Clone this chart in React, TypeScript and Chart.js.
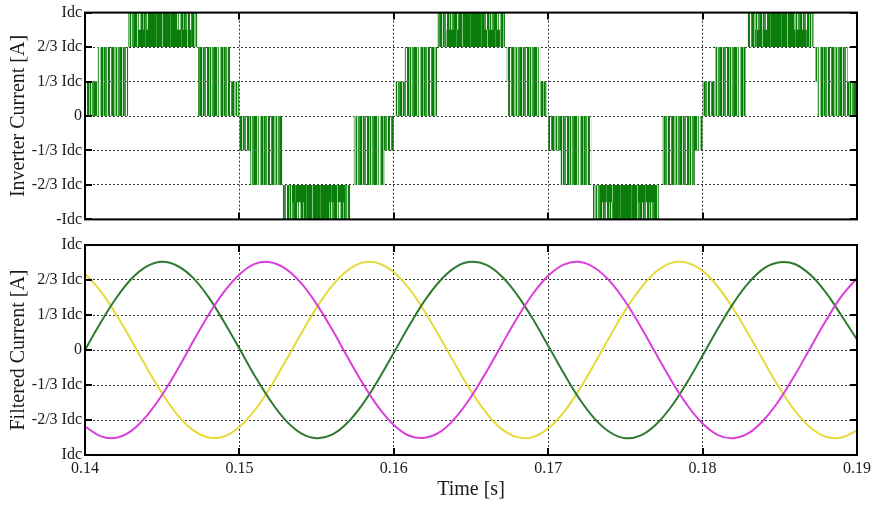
import React, { useEffect, useRef } from "react";
import { Chart, registerables } from "chart.js";

Chart.register(...registerables);

const FONT = "'Liberation Serif', 'Times New Roman', serif";

// ---- axes ----
const X_MIN = 0.14;
const X_MAX = 0.19;
const X_STEP = 0.01;
// y values are in units of Idc/3 (-3 .. 3)
const topYLabels = ["-Idc", "-2/3 Idc", "-1/3 Idc", "0", "1/3 Idc", "2/3 Idc", "Idc"];
const bottomYLabels = ["Idc", "-2/3 Idc", "-1/3 Idc", "0", "1/3 Idc", "2/3 Idc", "Idc"];

// ---- inverter current: PWM bands (start time, end time, low level, high level) ----
const segStart = [
  0.1400, 0.1408, 0.1428, 0.1473, 0.1473,
  0.1500, 0.1507, 0.1528, 0.1574, 0.1574,
  0.1601, 0.1607, 0.1628, 0.1673, 0.1674,
  0.1700, 0.1708, 0.1729, 0.1774, 0.1774,
  0.1800, 0.1808, 0.1829, 0.1873, 0.1874,
];
const segEnd = [
  0.1428, 0.1428, 0.1473, 0.1494, 0.1500,
  0.1528, 0.1528, 0.1572, 0.1594, 0.1600,
  0.1628, 0.1628, 0.1672, 0.1695, 0.1699,
  0.1728, 0.1728, 0.1772, 0.1795, 0.1800,
  0.1828, 0.1828, 0.1872, 0.1894, 0.1900,
];
const segLow = [
  0, 1, 2, 1, 0,
  -1, -2, -3, -2, -1,
  0, 1, 2, 1, 0,
  -1, -2, -3, -2, -1,
  0, 1, 2, 1, 0,
];
const segHigh = [
  1, 2, 3, 2, 1,
  0, -1, -2, -1, 0,
  1, 2, 3, 2, 1,
  0, -1, -2, -1, 0,
  1, 2, 3, 2, 1,
];
// densely switched parts of the peak bands
const denseStart = [0.1434, 0.1442, 0.1534, 0.1542, 0.1634, 0.1642, 0.1734, 0.1742, 0.1834, 0.1842];
const denseEnd = [0.1469, 0.1458, 0.1569, 0.1558, 0.1669, 0.1658, 0.1769, 0.1758, 0.1869, 0.1858];
const denseLow = [2, 2, -2.5, -3, 2, 2, -2.5, -3, 2, 2];
const denseHigh = [2.5, 3, -2, -2, 2.5, 3, -2, -2, 2.5, 3];

// ---- filtered currents ----
const times = [
  0.140, 0.141, 0.142, 0.143, 0.144, 0.145, 0.146, 0.147, 0.148, 0.149,
  0.150, 0.151, 0.152, 0.153, 0.154, 0.155, 0.156, 0.157, 0.158, 0.159,
  0.160, 0.161, 0.162, 0.163, 0.164, 0.165, 0.166, 0.167, 0.168, 0.169,
  0.170, 0.171, 0.172, 0.173, 0.174, 0.175, 0.176, 0.177, 0.178, 0.179,
  0.180, 0.181, 0.182, 0.183, 0.184, 0.185, 0.186, 0.187, 0.188, 0.189,
  0.190,
];
const phaseGreen = [
  0, 0.77, 1.47, 2.03, 2.39, 2.52, 2.40, 2.06, 1.51, 0.81,
  0.04, -0.74, -1.44, -2.01, -2.38, -2.52, -2.42, -2.08, -1.54, -0.85,
  -0.08, 0.70, 1.41, 1.98, 2.37, 2.52, 2.43, 2.10, 1.57, 0.89,
  0.12, -0.66, -1.38, -1.96, -2.35, -2.52, -2.44, -2.12, -1.60, -0.92,
  -0.16, 0.62, 1.34, 1.93, 2.34, 2.51, 2.45, 2.14, 1.63, 0.98,
  0.30,
];
const phaseMagenta = [
  -2.18, -2.46, -2.51, -2.31, -1.88, -1.28, -0.55, 0.24, 1.00, 1.66,
  2.16, 2.46, 2.51, 2.32, 1.91, 1.31, 0.59, -0.20, -0.96, -1.63,
  -2.14, -2.45, -2.51, -2.34, -1.93, -1.34, -0.62, 0.16, 0.92, 1.60,
  2.12, 2.44, 2.52, 2.35, 1.96, 1.38, 0.66, -0.12, -0.89, -1.57,
  -2.10, -2.43, -2.52, -2.37, -1.98, -1.41, -0.70, 0.08, 0.85, 1.54,
  2.05,
];
const phaseYellow = [
  2.18, 1.69, 1.03, 0.28, -0.51, -1.24, -1.86, -2.29, -2.50, -2.47,
  -2.20, -1.72, -1.07, -0.31, 0.47, 1.21, 1.83, 2.27, 2.50, 2.48,
  2.22, 1.75, 1.10, 0.35, -0.43, -1.17, -1.80, -2.26, -2.49, -2.49,
  -2.24, -1.78, -1.14, -0.39, 0.39, 1.14, 1.77, 2.24, 2.49, 2.49,
  2.26, 1.80, 1.17, 0.43, -0.35, -1.10, -1.75, -2.22, -2.48, -2.50,
  -2.30,
];

// ---- styles ----
const D = "#0b7d0b";
const M = "#3f9a3f";
const L = "#8cc58c";
const P = "#c4e2c4";
const W = "rgba(255,255,255,0)";
const regularStripes: [number, string][] = [
  [2, D], [1, P], [1, D], [2, M], [1, W], [2, D], [1, L], [1, D], [1, P], [2, M],
  [3, D], [1, P], [1, M], [1, W], [1, L], [2, D], [1, L], [1, D], [2, M], [1, P], [2, D],
  [1, W], [1, M], [2, D], [2, L], [1, D], [1, P], [2, M],
];
const denseStripes: [number, string][] = [
  [6, D], [1, M], [5, D], [1, L], [7, D], [1, M], [4, D],
];

function makePattern(stripes: [number, string][]): CanvasPattern | string {
  const total = stripes.reduce((s, [w]) => s + w, 0);
  const c = document.createElement("canvas");
  c.width = total;
  c.height = 8;
  const g = c.getContext("2d");
  if (!g) return D;
  let x = 0;
  for (const [w, col] of stripes) {
    g.fillStyle = col;
    g.fillRect(x, 0, w, 8);
    x += w;
  }
  return g.createPattern(c, "repeat") || D;
}

const framePlugin = {
  id: "frame",
  afterDraw(chart: any) {
    const { ctx, chartArea } = chart;
    const { left, right, top, bottom } = chartArea;
    const xs = chart.scales.x;
    const ys = chart.scales.y;
    ctx.save();
    ctx.strokeStyle = "#000";
    ctx.lineWidth = 2;
    ctx.strokeRect(left, top, right - left, bottom - top);
    const T = 7;
    ctx.beginPath();
    xs.ticks.forEach((t: any) => {
      const px = Math.round(xs.getPixelForValue(t.value));
      ctx.moveTo(px, top);
      ctx.lineTo(px, top + T);
      ctx.moveTo(px, bottom);
      ctx.lineTo(px, bottom - T);
    });
    ys.ticks.forEach((t: any) => {
      const py = Math.round(ys.getPixelForValue(t.value));
      ctx.moveTo(left, py);
      ctx.lineTo(left + T, py);
      ctx.moveTo(right, py);
      ctx.lineTo(right - T, py);
    });
    ctx.stroke();
    ctx.restore();
  },
};

function gridOpts() {
  return { color: "#333", lineWidth: 1, drawTicks: false };
}

export default function App() {
  const topRef = useRef<HTMLCanvasElement>(null);
  const botRef = useRef<HTMLCanvasElement>(null);

  useEffect(() => {
    document.body.style.margin = "0";
    Chart.defaults.font.family = FONT;
    Chart.defaults.color = "#1a1a1a";
    const regular = makePattern(regularStripes);
    const dense = makePattern(denseStripes);

    const bandDataset = (t0: number, t1: number, lo: number, hi: number, bg: any) => ({
      data: [
        { x: t0, y: hi },
        { x: t1, y: hi },
      ],
      fill: { value: lo },
      backgroundColor: bg,
      borderColor: "rgba(0,0,0,0)",
      borderWidth: 1,
      pointRadius: 0,
      tension: 0,
    });

    // earlier datasets are painted last (on top): dense parts first
    const topDatasets: any[] = [];
    for (let i = 0; i < denseStart.length; i++) {
      topDatasets.push(bandDataset(denseStart[i], denseEnd[i], denseLow[i], denseHigh[i], dense));
    }
    for (let i = 0; i < segStart.length; i++) {
      topDatasets.push(bandDataset(segStart[i], segEnd[i], segLow[i], segHigh[i], regular));
    }

    const xBase = {
      type: "linear" as const,
      min: X_MIN,
      max: X_MAX,
      grid: gridOpts(),
      border: { display: false, dash: [2, 2] },
    };

    const c1 = new Chart(topRef.current as HTMLCanvasElement, {
      type: "line",
      data: { datasets: topDatasets },
      plugins: [framePlugin],
      options: {
        animation: false,
        responsive: true,
        maintainAspectRatio: false,
        events: [],
        layout: { padding: { top: 12, right: 15, bottom: 12, left: 0 } },
        plugins: { legend: { display: false }, tooltip: { enabled: false } },
        scales: {
          x: {
            ...xBase,
            ticks: { display: false, stepSize: X_STEP },
            afterFit: (s: any) => {
              s.height = 0;
              s.paddingLeft = 0;
              s.paddingRight = 0;
            },
          },
          y: {
            min: -3,
            max: 3,
            grid: gridOpts(),
            border: { display: false, dash: [2, 2] },
            ticks: {
              stepSize: 1,
              padding: 3,
              font: { size: 16 },
              callback: (v: any) => topYLabels[Math.round(Number(v)) + 3],
            },
            title: {
              display: true,
              text: "Inverter Current [A]",
              font: { size: 20 },
              padding: { top: 7, bottom: 0 },
            },
            afterFit: (s: any) => {
              s.width = 85;
            },
          },
        },
      } as any,
    });

    const lineDs = (vals: number[], color: string) => ({
      data: times.map((t, i) => ({ x: t, y: vals[i] })),
      borderColor: color,
      borderWidth: 2,
      pointRadius: 0,
      tension: 0.4,
      fill: false,
    });

    const c2 = new Chart(botRef.current as HTMLCanvasElement, {
      type: "line",
      data: {
        datasets: [
          lineDs(phaseMagenta, "#d93fd9"),
          lineDs(phaseGreen, "#2f7a2f"),
          lineDs(phaseYellow, "#e6da3a"),
        ],
      },
      plugins: [framePlugin],
      options: {
        animation: false,
        responsive: true,
        maintainAspectRatio: false,
        events: [],
        layout: { padding: { top: 13, right: 15, bottom: 1, left: 0 } },
        plugins: { legend: { display: false }, tooltip: { enabled: false } },
        scales: {
          x: {
            ...xBase,
            ticks: {
              stepSize: X_STEP,
              padding: 4,
              autoSkip: false,
              maxRotation: 0,
              font: { size: 16 },
              callback: (v: any) => Number(v).toFixed(2),
            },
            title: {
              display: true,
              text: "Time [s]",
              font: { size: 20 },
              padding: { top: 0, bottom: 3 },
            },
            afterFit: (s: any) => {
              s.height = 50;
              s.paddingLeft = 0;
              s.paddingRight = 0;
            },
          },
          y: {
            min: -3,
            max: 3,
            grid: gridOpts(),
            border: { display: false, dash: [2, 2] },
            ticks: {
              stepSize: 1,
              padding: 3,
              font: { size: 16 },
              callback: (v: any) => bottomYLabels[Math.round(Number(v)) + 3],
            },
            title: {
              display: true,
              text: "Filtered Current [A]",
              font: { size: 20 },
              padding: { top: 7, bottom: 0 },
            },
            afterFit: (s: any) => {
              s.width = 85;
            },
          },
        },
      } as any,
    });

    return () => {
      c1.destroy();
      c2.destroy();
    };
  }, []);

  return (
    <div style={{ position: "relative", width: 872, height: 506, background: "#fff" }}>
      <div style={{ position: "absolute", left: 0, top: 0, width: 872, height: 232 }}>
        <canvas ref={topRef} />
      </div>
      <div style={{ position: "absolute", left: 0, top: 232, width: 872, height: 274 }}>
        <canvas ref={botRef} />
      </div>
    </div>
  );
}
